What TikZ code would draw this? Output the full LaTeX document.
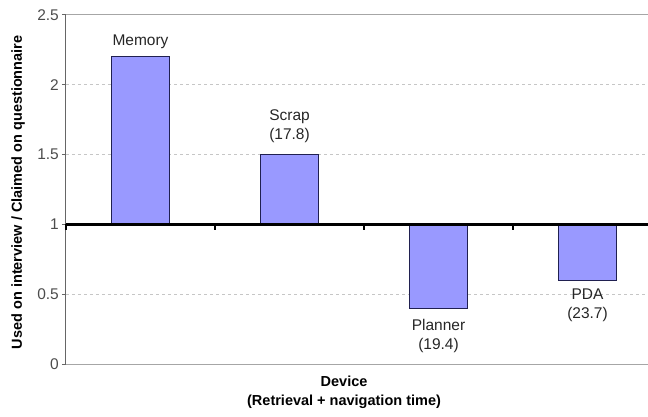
\documentclass[tikz,border=0pt]{standalone}
\usepackage{fontspec}
\setmainfont{Liberation Sans}
\definecolor{barfill}{HTML}{9999FF}
\definecolor{baredge}{HTML}{202050}
\tikzset{
  bar/.style={fill=barfill,draw=baredge,line width=0.9pt},
  grid line/.style={gray!45,dash pattern=on 3pt off 3pt,line width=0.8pt},
  frame line/.style={gray!70,line width=1pt},
  lbl/.style={align=center,inner sep=0pt,font=\fontsize{15.5}{19}\selectfont,text=black!85},
  ttl/.style={align=center,inner sep=0pt,font=\fontsize{14.5}{19}\selectfont\bfseries}
}
\begin{document}
\begin{tikzpicture}[x=149pt,y=139.6pt]
\useasboundingbox (-66pt,-52pt) rectangle (582pt,364pt);
% grid and frame
\foreach \v in {0.5,1.5,2}
  \draw[grid line] (0,\v)--(582pt,\v);
\draw[frame line] (0,2.5)--(582pt,2.5);
\draw[frame line] (0,0)--(582pt,0);
\draw[gray!80!black,line width=1pt] (0,0)--(0,2.5);
\foreach \v/\t [count=\i] in {0/0,0.5/0.5,1/1,1.5/1.5,2/2,2.5/2.5}{
  \draw[gray!80!black,line width=1pt] (-4pt,\v)--(0,\v);
  \node[lbl,anchor=east,text=black!70] (tick\i) at (-7pt,\v) {\t};
}
% bars
\draw[bar] (0.305,1)rectangle(0.695,2.2);
\draw[bar] (1.305,1)rectangle(1.695,1.5);
\draw[bar] (2.305,1)rectangle(2.695,0.4);
\draw[bar] (3.305,1)rectangle(3.695,0.6);
% axis crossing at 1
\draw[black,line width=2.4pt] (0,1)--(582pt,1);
\foreach \x in {0,1,2,3}
  \draw[black,line width=2pt] (\x,1)--++(0,-6pt);
% labels
\node[lbl] (memory) at (0.5,2.3066) {Memory};
\node[lbl] (scrap) at (1.5,1.701) {Scrap\\(17.8)};
\node[lbl] (planner) at (2.5,0.204) {Planner\\(19.4)};
\node[lbl] (pda) at (3.5,0.4226) {PDA\\(23.7)};
% axis titles
\node[ttl] (xtitle) at (1.866,-0.204) {Device\\(Retrieval + navigation time)};
\node[ttl,rotate=90] (ytitle) at (-0.322,1.23) {Used on interview / Claimed on questionnaire};
\end{tikzpicture}
\end{document}
